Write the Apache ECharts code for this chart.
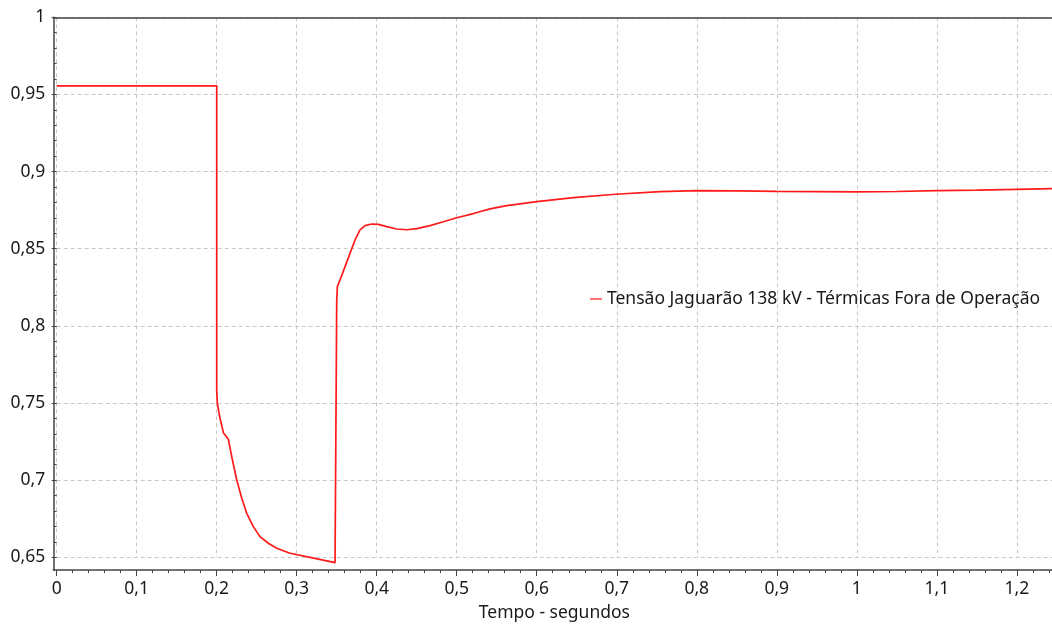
<!DOCTYPE html>
<html>
<head>
<meta charset="utf-8">
<script src="https://cdn.jsdelivr.net/npm/echarts@6/dist/echarts.min.js"></script>
<style>html,body{margin:0;padding:0;background:#fff}#c{width:1052px;height:628px}</style>
</head>
<body>
<div id="c"></div>
<script>
const seriesName = 'Tensão Jaguarão 138 kV - Térmicas Fora de Operação';
const xAxisName = 'Tempo - segundos';
const timeValues = [
  0, 0.2, 0.2, 0.2008, 0.2041, 0.2083, 0.2145, 0.2188, 0.225, 0.2313, 0.2375, 0.2458, 0.2541, 0.2645, 0.275, 0.2916, 0.3166, 0.3479, 0.35,
  0.35, 0.3508, 0.3541, 0.3604, 0.3666, 0.3729, 0.3791, 0.3854, 0.3937, 0.402, 0.4125, 0.425, 0.4375, 0.45, 0.4666, 0.4832,
  0.5, 0.5208, 0.5416, 0.5625, 0.6, 0.6458, 0.6987, 0.754, 0.8, 0.85, 0.9, 0.95, 1.0, 1.05, 1.1, 1.15, 1.2, 1.244
];
const voltageValues = [
  0.9556, 0.9556, 0.758, 0.7498, 0.7401, 0.7308, 0.7265, 0.7152, 0.7001, 0.6883, 0.6785, 0.6699, 0.6634, 0.6591, 0.6559, 0.6526, 0.65, 0.6465, 0.6461,
  0.8166, 0.8254, 0.8297, 0.8384, 0.847, 0.8557, 0.8622, 0.865, 0.866, 0.8658, 0.8643, 0.8628, 0.8623, 0.863, 0.865, 0.8675,
  0.8701, 0.8728, 0.8758, 0.8779, 0.8805, 0.8831, 0.8853, 0.887, 0.8876, 0.8875, 0.8872, 0.887, 0.8868, 0.8871, 0.8876, 0.888, 0.8885, 0.8889
];
const xMin = 0, xMax = 1.244, xStep = 0.1;
const yMin = 0.65, yMax = 1, yStep = 0.05;

const fmt = v => String(+v.toFixed(2)).replace('.', ',');
const font = '"Noto Sans", "Open Sans", sans-serif';
const txt = '#1a1a1a';
const axisDark = '#444';
const red = '#ff1a1a';
const chart = echarts.init(document.getElementById('c'));
chart.setOption({
  animation: false,
  textStyle: { fontFamily: font },
  grid: [
    { left: 56.7, right: 0, top: 17.3, bottom: 70.7 },
    { left: 53.3, right: 0, top: 17.3, bottom: 58 }
  ],
  legend: {
    left: 585, top: 285,
    itemWidth: 12, itemHeight: 14,
    icon: 'path://M0,0 L20,0 L20,2 L0,2 Z',
    textStyle: { fontFamily: font, fontSize: 17.5, color: txt },
    data: [seriesName],
    selectedMode: false
  },
  xAxis: [
    {
      gridIndex: 0, type: 'value', min: xMin, max: xMax, interval: xStep,
      offset: 12.7,
      name: xAxisName, nameLocation: 'middle', nameGap: 34,
      nameTextStyle: { fontFamily: font, fontSize: 17.5, color: txt },
      axisLine: { show: false },
      axisTick: { show: true, length: 6, lineStyle: { color: axisDark } },
      minorTick: { show: true, splitNumber: 5, length: 3, lineStyle: { color: axisDark } },
      axisLabel: { formatter: fmt, fontSize: 17.5, color: txt, margin: 10, showMaxLabel: false },
      splitLine: { show: true, lineStyle: { color: '#c8c8c8', type: [4, 3], width: 1 } }
    },
    {
      gridIndex: 1, type: 'value', position: 'bottom', min: 0, max: 1,
      axisLine: { show: true, lineStyle: { color: axisDark, width: 1.5 } },
      axisTick: { show: false }, axisLabel: { show: false }, splitLine: { show: false }
    },
    {
      gridIndex: 1, type: 'value', position: 'top', min: 0, max: 1,
      axisLine: { show: true, lineStyle: { color: axisDark, width: 1.5 } },
      axisTick: { show: false }, axisLabel: { show: false }, splitLine: { show: false }
    }
  ],
  yAxis: [
    {
      gridIndex: 0, type: 'value', min: yMin, max: yMax, interval: yStep,
      offset: 3.4,
      axisLine: { show: false },
      axisTick: { show: true, length: 5, lineStyle: { color: axisDark } },
      minorTick: { show: true, splitNumber: 5, length: 2.5, lineStyle: { color: axisDark } },
      axisLabel: { formatter: fmt, fontSize: 17.5, color: txt, margin: 8 },
      splitLine: { show: true, lineStyle: { color: '#c8c8c8', type: [4, 3], width: 1 } }
    },
    {
      gridIndex: 1, type: 'value', min: 0, max: 1,
      axisLine: { show: true, lineStyle: { color: axisDark, width: 1.5 } },
      axisTick: { show: false }, axisLabel: { show: false }, splitLine: { show: false }
    }
  ],
  series: [{
    name: seriesName,
    type: 'line',
    xAxisIndex: 0, yAxisIndex: 0,
    clip: false,
    showSymbol: false, symbol: 'none',
    smooth: false,
    lineStyle: { color: red, width: 1.7 },
    itemStyle: { color: red },
    data: timeValues.map((t, i) => [t, voltageValues[i]])
  }]
});
</script>
</body>
</html>
